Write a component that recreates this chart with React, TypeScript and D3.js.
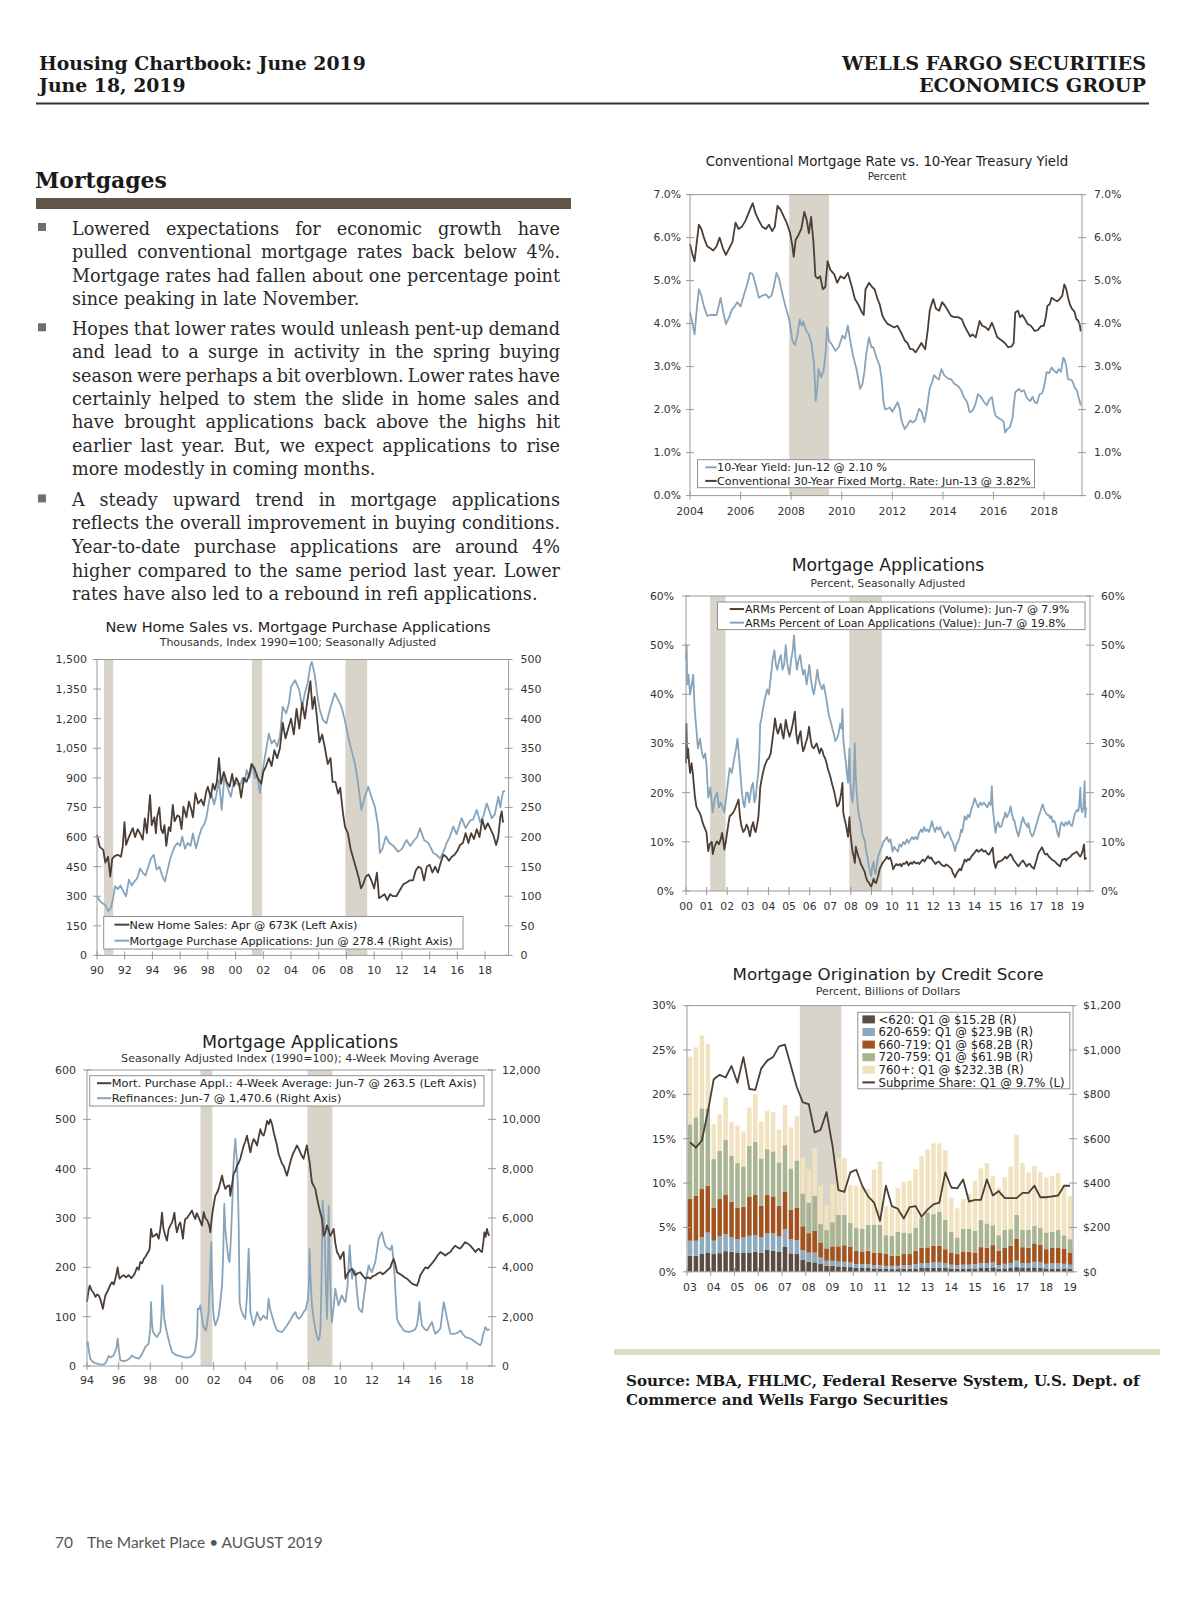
import React from "react";
import * as d3 from "d3";

type Pt = [number, number];

// ======================= DATA =======================
// Recession periods (decimal years)
const recessionsRate: Pt[] = [[2007.92, 2009.5]];
const recessionsArm: Pt[] = [[2001.17, 2001.92], [2007.92, 2009.5]];
const recessionsOrig: Pt[] = [[2007.75, 2009.5]];
const recessionsNhs: Pt[] = [[1990.5, 1991.17], [2001.17, 2001.92], [2007.92, 2009.5]];
const recessionsApps: Pt[] = [[2001.17, 2001.92], [2007.92, 2009.5]];

// Chart A: Conventional 30-yr mortgage rate (%)
const mortgageRate30: Pt[] = [[2004.0,5.85],[2004.08,5.65],[2004.18,5.45],[2004.27,5.9],[2004.35,6.3],[2004.45,6.2],[2004.55,6.0],[2004.68,5.8],[2004.8,5.75],[2004.92,5.7],[2005.05,5.8],[2005.17,6.0],[2005.3,5.75],[2005.42,5.6],[2005.55,5.75],[2005.68,5.9],[2005.8,6.35],[2005.92,6.2],[2006.05,6.25],[2006.2,6.4],[2006.37,6.65],[2006.48,6.8],[2006.6,6.55],[2006.72,6.4],[2006.86,6.25],[2007.0,6.2],[2007.12,6.3],[2007.25,6.15],[2007.35,6.25],[2007.46,6.74],[2007.58,6.65],[2007.7,6.5],[2007.82,6.35],[2007.96,6.1],[2008.05,5.8],[2008.1,5.55],[2008.18,5.95],[2008.28,6.05],[2008.4,6.2],[2008.52,6.6],[2008.62,6.4],[2008.7,6.1],[2008.79,6.48],[2008.88,5.9],[2008.96,5.1],[2009.05,5.05],[2009.15,5.1],[2009.25,4.8],[2009.35,4.85],[2009.44,5.45],[2009.55,5.25],[2009.7,5.15],[2009.82,4.95],[2009.95,5.1],[2010.1,5.05],[2010.24,5.18],[2010.38,4.9],[2010.52,4.57],[2010.65,4.45],[2010.8,4.26],[2010.87,4.2],[2010.94,4.8],[2011.08,4.95],[2011.2,4.85],[2011.3,4.8],[2011.4,4.6],[2011.5,4.45],[2011.6,4.2],[2011.68,4.1],[2011.8,4.0],[2011.95,3.95],[2012.07,3.91],[2012.2,3.95],[2012.35,3.79],[2012.5,3.6],[2012.6,3.55],[2012.7,3.41],[2012.82,3.4],[2012.92,3.33],[2013.05,3.45],[2013.15,3.55],[2013.3,3.4],[2013.4,3.85],[2013.48,4.3],[2013.55,4.45],[2013.62,4.57],[2013.72,4.35],[2013.85,4.3],[2013.97,4.5],[2014.1,4.4],[2014.2,4.3],[2014.32,4.18],[2014.45,4.15],[2014.6,4.15],[2014.75,4.1],[2014.85,3.95],[2014.96,3.83],[2015.08,3.7],[2015.17,3.75],[2015.3,3.68],[2015.45,4.06],[2015.55,3.95],[2015.68,3.92],[2015.8,3.85],[2015.94,4.02],[2016.05,3.85],[2016.15,3.68],[2016.3,3.62],[2016.45,3.55],[2016.58,3.45],[2016.72,3.47],[2016.8,3.55],[2016.86,4.26],[2016.97,4.3],[2017.05,4.15],[2017.14,4.2],[2017.25,4.1],[2017.35,3.99],[2017.48,3.95],[2017.63,3.83],[2017.75,3.85],[2017.88,3.94],[2017.99,3.95],[2018.07,4.15],[2018.13,4.41],[2018.22,4.45],[2018.3,4.6],[2018.42,4.55],[2018.52,4.52],[2018.62,4.57],[2018.72,4.65],[2018.8,4.91],[2018.88,4.8],[2018.95,4.6],[2019.02,4.45],[2019.1,4.35],[2019.2,4.28],[2019.28,4.1],[2019.35,4.07],[2019.42,3.95],[2019.45,3.82]];

// Chart A: 10-year Treasury yield (%)
const treasury10: Pt[] = [[2004.0,4.26],[2004.08,4.05],[2004.18,3.75],[2004.27,4.35],[2004.35,4.8],[2004.45,4.65],[2004.55,4.4],[2004.68,4.18],[2004.8,4.2],[2004.92,4.2],[2005.05,4.2],[2005.13,4.4],[2005.21,4.6],[2005.32,4.25],[2005.42,3.99],[2005.55,4.15],[2005.66,4.33],[2005.77,4.4],[2005.87,4.5],[2006.0,4.4],[2006.15,4.7],[2006.28,4.95],[2006.37,5.18],[2006.48,5.15],[2006.6,4.9],[2006.72,4.6],[2006.85,4.65],[2007.0,4.68],[2007.12,4.6],[2007.22,4.65],[2007.31,4.85],[2007.42,5.18],[2007.52,5.05],[2007.63,4.75],[2007.77,4.41],[2007.92,4.1],[2008.0,3.8],[2008.05,3.6],[2008.15,3.5],[2008.25,3.75],[2008.34,4.1],[2008.42,3.95],[2008.48,4.05],[2008.58,3.85],[2008.69,3.75],[2008.8,3.55],[2008.9,3.1],[2008.97,2.2],[2009.03,2.5],[2009.08,2.94],[2009.18,2.75],[2009.28,2.9],[2009.36,3.3],[2009.42,3.91],[2009.5,3.6],[2009.62,3.5],[2009.75,3.37],[2009.88,3.45],[2010.03,3.72],[2010.13,3.65],[2010.24,3.95],[2010.35,3.55],[2010.45,3.25],[2010.58,2.95],[2010.73,2.48],[2010.82,2.6],[2010.9,2.9],[2010.97,3.3],[2011.08,3.68],[2011.17,3.45],[2011.25,3.45],[2011.38,3.2],[2011.5,3.02],[2011.58,2.7],[2011.65,2.17],[2011.72,2.0],[2011.79,2.02],[2011.9,2.05],[2012.0,1.95],[2012.07,2.02],[2012.21,2.17],[2012.3,2.0],[2012.35,1.78],[2012.42,1.65],[2012.49,1.55],[2012.58,1.62],[2012.7,1.75],[2012.8,1.7],[2012.92,1.75],[2013.06,2.02],[2013.16,1.95],[2013.27,1.71],[2013.35,1.95],[2013.41,2.2],[2013.48,2.5],[2013.55,2.6],[2013.65,2.8],[2013.73,2.75],[2013.84,2.7],[2013.94,2.94],[2014.05,2.8],[2014.2,2.72],[2014.32,2.71],[2014.45,2.6],[2014.6,2.55],[2014.72,2.45],[2014.82,2.3],[2014.96,2.17],[2015.05,1.95],[2015.1,1.94],[2015.2,2.0],[2015.3,2.15],[2015.38,2.36],[2015.5,2.3],[2015.6,2.2],[2015.73,2.1],[2015.85,2.25],[2015.94,2.29],[2016.02,2.0],[2016.08,1.86],[2016.2,1.8],[2016.3,1.77],[2016.4,1.72],[2016.46,1.47],[2016.55,1.55],[2016.65,1.59],[2016.75,1.8],[2016.82,2.2],[2016.86,2.4],[2016.95,2.45],[2017.0,2.48],[2017.1,2.42],[2017.2,2.45],[2017.3,2.3],[2017.35,2.25],[2017.45,2.2],[2017.55,2.3],[2017.63,2.17],[2017.72,2.15],[2017.82,2.35],[2017.92,2.38],[2017.99,2.5],[2018.05,2.7],[2018.1,2.87],[2018.2,2.85],[2018.3,2.98],[2018.4,2.9],[2018.5,2.85],[2018.58,2.94],[2018.67,2.88],[2018.76,3.21],[2018.82,3.15],[2018.88,3.0],[2018.94,2.71],[2019.02,2.7],[2019.1,2.68],[2019.14,2.63],[2019.22,2.5],[2019.3,2.45],[2019.36,2.3],[2019.45,2.1]];

// Chart B: ARMs percent of loan applications, by value (%)
const armValue: Pt[] = [[2000.0,47],[2000.03,50],[2000.06,42],[2000.12,44],[2000.2,40],[2000.28,42],[2000.35,44],[2000.42,37],[2000.5,33],[2000.58,29],[2000.68,31],[2000.78,28],[2000.85,27],[2000.93,28],[2000.99,26],[2001.08,19],[2001.18,21],[2001.3,16],[2001.4,19],[2001.51,20],[2001.6,17],[2001.68,18],[2001.78,17],[2001.86,16],[2001.95,19],[2002.03,22],[2002.12,25],[2002.22,24],[2002.34,27],[2002.43,29],[2002.5,31],[2002.6,26],[2002.69,21],[2002.77,18],[2002.84,17],[2002.92,20],[2002.99,20],[2003.07,18],[2003.17,21],[2003.25,22],[2003.32,18],[2003.38,19],[2003.45,22],[2003.51,24],[2003.56,28],[2003.6,34],[2003.66,35],[2003.73,37],[2003.82,39],[2003.94,41],[2004.02,40],[2004.1,43],[2004.2,47],[2004.29,49],[2004.36,46],[2004.43,45],[2004.52,47],[2004.6,48],[2004.68,45],[2004.76,46],[2004.84,50],[2004.92,46],[2005.02,44],[2005.1,47],[2005.18,49],[2005.24,52],[2005.3,48],[2005.38,45],[2005.46,47],[2005.54,48],[2005.6,46],[2005.68,44],[2005.76,45],[2005.85,42],[2005.92,44],[2005.98,46],[2006.06,43],[2006.14,41],[2006.2,40],[2006.28,42],[2006.37,45],[2006.44,43],[2006.51,42],[2006.6,41],[2006.68,42],[2006.77,40],[2006.85,38],[2006.92,36],[2006.98,35],[2007.05,34],[2007.1,33],[2007.17,32],[2007.24,30.5],[2007.32,31],[2007.4,32],[2007.48,34],[2007.55,33],[2007.59,37],[2007.63,31],[2007.7,28],[2007.76,26],[2007.8,24],[2007.86,22],[2007.93,29],[2007.97,22],[2008.03,19],[2008.08,18],[2008.14,22],[2008.19,30],[2008.23,24],[2008.28,20],[2008.34,17],[2008.4,15],[2008.47,14],[2008.54,12],[2008.61,11],[2008.68,10],[2008.74,8],[2008.8,7],[2008.87,5],[2008.93,4],[2008.98,3],[2009.04,5],[2009.1,6],[2009.15,4],[2009.2,3.5],[2009.26,5.5],[2009.32,7],[2009.4,8],[2009.5,9],[2009.58,10],[2009.67,10.5],[2009.75,11],[2009.83,10],[2009.92,10.5],[2010.02,8],[2010.1,9],[2010.18,8.5],[2010.28,8],[2010.36,9.5],[2010.45,9],[2010.54,10],[2010.62,9.5],[2010.72,10.5],[2010.8,9.8],[2010.9,10.5],[2010.97,11],[2011.05,10.5],[2011.14,11],[2011.22,10.5],[2011.31,11.8],[2011.4,12.5],[2011.48,12],[2011.55,13],[2011.63,12.2],[2011.72,12.5],[2011.79,12],[2011.86,13],[2011.93,14.2],[2012.0,13],[2012.08,12],[2012.16,13],[2012.25,12.5],[2012.33,13],[2012.42,12],[2012.48,11.5],[2012.54,10.8],[2012.62,11.5],[2012.7,12],[2012.78,11.5],[2012.86,10.5],[2012.93,10],[2012.97,9.5],[2013.06,8.1],[2013.12,9.5],[2013.2,10],[2013.28,11],[2013.35,12.5],[2013.4,12],[2013.46,13.5],[2013.52,15.2],[2013.6,14.5],[2013.68,15.5],[2013.75,15],[2013.84,16.5],[2013.92,17.5],[2014.01,18.9],[2014.08,18],[2014.18,17],[2014.27,18],[2014.36,17.5],[2014.45,18],[2014.54,17.5],[2014.62,17],[2014.7,18],[2014.78,17.5],[2014.84,21.3],[2014.88,17],[2014.93,15],[2014.98,13],[2015.02,11.8],[2015.08,13.5],[2015.15,14],[2015.22,13],[2015.31,13.2],[2015.38,14.5],[2015.44,15],[2015.49,16],[2015.56,15],[2015.62,15.5],[2015.68,16],[2015.75,17.2],[2015.82,15.5],[2015.88,14.5],[2015.92,14.5],[2016.0,13],[2016.06,12],[2016.13,11.1],[2016.2,12.5],[2016.28,14],[2016.35,15],[2016.42,14],[2016.5,13.5],[2016.57,13],[2016.61,13.8],[2016.7,12],[2016.79,11.1],[2016.86,11.5],[2016.93,12.5],[2017.0,13.5],[2017.1,15],[2017.18,16],[2017.25,17],[2017.31,17.6],[2017.38,16.5],[2017.45,16],[2017.52,15.5],[2017.6,15.5],[2017.66,14.8],[2017.72,15.2],[2017.8,14],[2017.86,14.3],[2017.92,13.8],[2017.98,12.5],[2018.04,11.5],[2018.09,11],[2018.15,13],[2018.22,14],[2018.3,13.5],[2018.35,13.2],[2018.42,14],[2018.5,13.5],[2018.58,14.2],[2018.65,13.5],[2018.73,13.2],[2018.8,14.5],[2018.85,15.5],[2018.9,16],[2018.97,16.5],[2019.03,16.2],[2019.08,17.5],[2019.13,21],[2019.17,17],[2019.22,16],[2019.28,17],[2019.34,22.3],[2019.37,15],[2019.4,16.5],[2019.43,17]];

// Chart B: ARMs percent of loan applications, by volume (%)
const armVolume: Pt[] = [[2000.0,26],[2000.02,34],[2000.05,27],[2000.1,29],[2000.15,26],[2000.2,24],[2000.27,26],[2000.33,24],[2000.43,19.3],[2000.5,17.2],[2000.58,16.5],[2000.65,16],[2000.73,15.2],[2000.8,14],[2000.87,13.2],[2000.94,12.5],[2000.99,12],[2001.08,8.1],[2001.15,9.5],[2001.25,10],[2001.3,7.5],[2001.38,9],[2001.5,10.1],[2001.6,9.5],[2001.68,10.5],[2001.75,11.8],[2001.82,10],[2001.86,8.4],[2001.93,10],[2002.0,12],[2002.07,14],[2002.12,15.2],[2002.2,15.5],[2002.29,16],[2002.36,16.5],[2002.45,17.5],[2002.55,18.6],[2002.62,15],[2002.69,13.2],[2002.78,12],[2002.86,12.5],[2002.94,13.5],[2003.0,13],[2003.1,11.1],[2003.18,13],[2003.26,14],[2003.32,12.5],[2003.38,12],[2003.45,13.5],[2003.51,15],[2003.56,18],[2003.6,21],[2003.66,22.5],[2003.73,24],[2003.82,25.5],[2003.94,26.7],[2004.02,27],[2004.11,28],[2004.2,31],[2004.26,33],[2004.32,35.1],[2004.39,33],[2004.46,32],[2004.53,33],[2004.6,34],[2004.67,32],[2004.73,31],[2004.79,33],[2004.84,34.8],[2004.92,33],[2005.02,31.4],[2005.1,32.5],[2005.18,34],[2005.28,36.5],[2005.35,32],[2005.42,30],[2005.49,31.5],[2005.56,32.5],[2005.62,30],[2005.68,28.4],[2005.74,29],[2005.8,30],[2005.88,31],[2005.97,33.4],[2006.04,31],[2006.11,29.4],[2006.2,29],[2006.27,29.5],[2006.34,30],[2006.41,29],[2006.48,28],[2006.55,29],[2006.62,28.5],[2006.68,27.5],[2006.75,27],[2006.82,26],[2006.89,24.7],[2006.95,24],[2007.02,23],[2007.07,22],[2007.14,21],[2007.2,20],[2007.27,18.5],[2007.33,17.2],[2007.4,17.5],[2007.47,18.5],[2007.53,20],[2007.59,22],[2007.63,16],[2007.7,14.5],[2007.76,13.5],[2007.8,12.5],[2007.86,11],[2007.93,15],[2007.97,12],[2008.02,10.1],[2008.08,8],[2008.14,7],[2008.19,5.7],[2008.24,9],[2008.3,8],[2008.36,7],[2008.42,6.5],[2008.48,5.5],[2008.54,5],[2008.6,4.5],[2008.66,4],[2008.72,3],[2008.8,2],[2008.86,1.8],[2008.92,1.3],[2008.98,0.9],[2009.04,1.5],[2009.1,2.5],[2009.16,1.8],[2009.22,1.6],[2009.28,2.5],[2009.32,3],[2009.4,4.5],[2009.5,5.4],[2009.58,6],[2009.67,6.4],[2009.75,7],[2009.82,6.5],[2009.9,6.8],[2009.97,6],[2010.05,4.4],[2010.12,5],[2010.2,5.5],[2010.3,5.2],[2010.38,5.5],[2010.45,5],[2010.53,5.6],[2010.62,5.5],[2010.71,6],[2010.8,5.2],[2010.9,5.8],[2010.97,5.5],[2011.06,6],[2011.15,5.6],[2011.24,5.8],[2011.32,5.5],[2011.41,6],[2011.49,6.4],[2011.57,6],[2011.65,6.5],[2011.75,7.1],[2011.82,6.6],[2011.9,6.8],[2011.97,6.2],[2012.05,5.8],[2012.1,5.5],[2012.18,5.8],[2012.27,6],[2012.36,5.5],[2012.45,5.2],[2012.54,5],[2012.62,5.4],[2012.7,5.2],[2012.8,4.8],[2012.88,4.5],[2012.96,3.5],[2013.02,3.2],[2013.06,2.8],[2013.12,3.5],[2013.2,4],[2013.28,4.5],[2013.35,4.2],[2013.4,5],[2013.46,5.5],[2013.52,6.4],[2013.6,6],[2013.68,6.5],[2013.75,6.3],[2013.84,7],[2013.92,7.4],[2014.0,7.8],[2014.1,8.4],[2014.18,8],[2014.27,8.2],[2014.35,8.5],[2014.44,8],[2014.53,8.2],[2014.62,7.6],[2014.7,7.4],[2014.78,8],[2014.84,8.5],[2014.88,8.8],[2014.94,6],[2015.02,4.7],[2015.08,5.5],[2015.14,6],[2015.22,6],[2015.31,6.2],[2015.4,6.5],[2015.49,7],[2015.56,6.6],[2015.64,7],[2015.75,7.5],[2015.82,7],[2015.88,6.4],[2015.95,6],[2016.04,5.5],[2016.13,5],[2016.22,5.6],[2016.3,6],[2016.35,6.2],[2016.44,5.6],[2016.53,5],[2016.6,5.4],[2016.68,5.5],[2016.75,5],[2016.82,4.8],[2016.88,4.5],[2016.95,5.5],[2017.02,6.5],[2017.08,7.5],[2017.14,8],[2017.21,8.5],[2017.27,8.9],[2017.34,8.2],[2017.4,7.6],[2017.45,7.4],[2017.52,7.6],[2017.6,7],[2017.66,6.8],[2017.74,6.4],[2017.82,6.2],[2017.9,6],[2017.98,5.6],[2018.06,5.3],[2018.14,5],[2018.2,5.8],[2018.26,6.4],[2018.33,6.5],[2018.4,6.6],[2018.44,6.2],[2018.52,6.6],[2018.6,6.8],[2018.66,7],[2018.73,7.4],[2018.8,7.6],[2018.88,7.8],[2018.95,8],[2019.02,7.6],[2019.08,7.2],[2019.13,7],[2019.2,7.6],[2019.26,8.5],[2019.31,9.5],[2019.35,6.5],[2019.39,6.6],[2019.43,6.8]];

// Chart C: mortgage originations by credit score, quarterly from 2003 Q1 ($B)
const origStartYear = 2003;
const orig620: number[] = [72,72,80,87, 80,84,93,90, 87,87,87,90, 87,99,95,90, 114,83,80,53, 45,42,35,27, 27,24,24,21, 17,17,17,15, 15,14,12,12, 14,14,15,17, 17,18,18,17, 15,14,15,15, 15,17,17,20, 14,15,17,21, 17,17,20,18, 15,15,15,15, 14];
const orig620659: number[] = [68,68,75,90, 60,75,77,65, 60,68,75,75, 68,74,78,69, 78,64,63,45, 42,45,30,23, 23,23,21,21, 18,18,18,15, 15,13,15,15, 16,16,20,22, 22,24,24,21, 17,16,17,17, 20,22,22,22, 16,21,22,29, 22,22,25,24, 21,23,23,21, 18];
const orig660719: number[] = [188,203,218,211, 150,169,176,161, 143,138,178,181, 143,173,167,139, 169,133,146,107, 87,98,67,55, 64,67,75,72, 60,57,60,57, 57,53,45,45, 50,50,60,69, 71,75,75,64, 55,50,60,58, 52,72,69,78, 65,72,78,100, 72,69,83,80, 66,70,70,69, 55];
const orig720759: number[] = [337,353,364,349, 218,218,248,207, 200,182,228,240, 213,207,203,195, 210,186,213,147, 137,158,83,83, 109,142,136,106, 105,103,117,124, 124,85,90,108, 97,94,105,137, 158,143,154,133, 93,75,103,105, 98,122,110,90, 70,81,75,107, 78,81,80,78, 75,72,81,60, 60];
const orig760: number[] = [305,316,328,290, 158,165,192,151, 169,158,173,215, 166,173,176,148, 181,185,199,161, 152,215,173,113, 171,258,258,171, 188,187,161,249, 287,130,131,196, 229,237,263,275, 285,319,308,314, 155,131,133,155, 226,233,272,223, 215,238,283,361, 301,259,270,251, 249,253,256,226, 196];
const subprimeShare: number[] = [14.6,14.0,14.8,18.0, 21.7,22.2,21.9,23.2, 21.3,24.2,20.6,20.5, 22.9,23.8,24.2,25.4, 25.6,23.2,20.8,19.1, 18.9,15.7,16.0,18.0, 14.2,9.2,9.0,11.2, 11.5,9.7,8.5,7.8, 5.75,9.7,7.4,7.1, 6.0,7.3,7.4,6.2, 7.0,7.6,7.8,11.2, 9.5,9.4,10.4,7.9, 8.1,8.1,10.4,8.6, 9.1,8.3,8.3,8.3, 8.9,8.9,9.7,8.4, 8.4,8.5,8.6,9.7, 9.7];

// Chart D: new home sales (thousands, left) and purchase applications index (right)
const newHomeSales: Pt[] = [[1990.0,610],[1990.2,550],[1990.45,535],[1990.6,470],[1990.8,500],[1990.96,400],[1991.1,490],[1991.3,505],[1991.5,510],[1991.73,500],[1991.86,552],[1991.98,675],[1992.1,560],[1992.3,600],[1992.58,645],[1992.75,600],[1992.94,640],[1993.1,620],[1993.3,587],[1993.45,695],[1993.6,620],[1993.83,813],[1993.95,660],[1994.14,700],[1994.25,619],[1994.34,703],[1994.5,750],[1994.62,640],[1994.75,620],[1994.87,660],[1995.0,555],[1995.18,650],[1995.3,630],[1995.47,763],[1995.6,680],[1995.8,710],[1995.95,703],[1996.1,640],[1996.24,754],[1996.45,700],[1996.63,780],[1996.8,740],[1996.92,700],[1997.1,822],[1997.3,770],[1997.52,790],[1997.7,760],[1997.88,830],[1998.0,855],[1998.2,800],[1998.36,870],[1998.5,840],[1998.65,880],[1998.8,1000],[1998.95,870],[1999.15,930],[1999.35,880],[1999.57,855],[1999.75,920],[1999.9,860],[2000.05,900],[2000.25,870],[2000.4,800],[2000.6,900],[2000.8,880],[2001.0,920],[2001.15,970],[2001.35,950],[2001.6,900],[2001.85,870],[2002.0,930],[2002.2,960],[2002.4,1000],[2002.6,960],[2002.8,1040],[2003.0,1000],[2003.2,1050],[2003.4,1180],[2003.6,1100],[2003.8,1150],[2004.0,1200],[2004.2,1120],[2004.4,1250],[2004.6,1150],[2004.8,1280],[2005.0,1200],[2005.2,1300],[2005.4,1390],[2005.55,1250],[2005.7,1310],[2005.85,1220],[2006.05,1080],[2006.25,1120],[2006.45,1050],[2006.65,970],[2006.85,1000],[2007.0,880],[2007.2,880],[2007.4,820],[2007.55,850],[2007.75,720],[2007.9,650],[2008.1,620],[2008.3,540],[2008.5,490],[2008.7,440],[2008.9,390],[2009.05,340],[2009.2,360],[2009.4,400],[2009.6,410],[2009.8,380],[2010.0,340],[2010.2,420],[2010.35,290],[2010.55,300],[2010.75,310],[2010.95,280],[2011.15,310],[2011.35,300],[2011.6,300],[2011.85,330],[2012.1,360],[2012.35,370],[2012.55,380],[2012.8,380],[2013.0,430],[2013.2,450],[2013.4,440],[2013.6,380],[2013.8,450],[2014.0,460],[2014.2,420],[2014.4,450],[2014.6,420],[2014.8,470],[2015.0,510],[2015.2,500],[2015.4,480],[2015.6,500],[2015.8,510],[2016.0,530],[2016.2,560],[2016.4,570],[2016.6,620],[2016.8,570],[2017.0,620],[2017.2,590],[2017.4,640],[2017.6,600],[2017.8,690],[2018.0,640],[2018.2,670],[2018.4,640],[2018.6,610],[2018.8,560],[2018.95,600],[2019.1,700],[2019.2,730],[2019.3,673]];
const purchaseIndex: Pt[] = [[1990.0,100],[1990.2,92],[1990.4,88],[1990.6,85],[1990.8,75],[1991.0,80],[1991.15,95],[1991.3,117],[1991.5,112],[1991.7,118],[1991.9,108],[1992.1,100],[1992.3,128],[1992.5,118],[1992.7,125],[1992.9,130],[1993.1,147],[1993.3,140],[1993.5,135],[1993.7,150],[1993.9,164],[1994.1,170],[1994.3,145],[1994.5,150],[1994.7,135],[1994.9,125],[1995.1,145],[1995.3,165],[1995.6,184],[1995.8,190],[1996.0,185],[1996.15,201],[1996.35,180],[1996.55,190],[1996.75,185],[1996.92,206],[1997.15,181],[1997.35,200],[1997.55,215],[1997.75,222],[1997.9,234],[1998.1,262],[1998.25,274],[1998.45,255],[1998.6,270],[1998.8,296],[1999.0,246],[1999.2,305],[1999.4,285],[1999.65,268],[1999.85,290],[2000.1,291],[2000.3,285],[2000.5,300],[2000.65,292],[2000.8,313],[2001.0,300],[2001.2,324],[2001.4,300],[2001.55,305],[2001.75,274],[2002.0,319],[2002.2,347],[2002.4,375],[2002.6,358],[2002.8,364],[2003.0,353],[2003.2,370],[2003.4,420],[2003.65,409],[2003.85,426],[2004.0,454],[2004.3,465],[2004.6,448],[2004.8,420],[2005.0,443],[2005.2,460],[2005.4,490],[2005.5,496],[2005.7,476],[2005.9,440],[2006.07,415],[2006.3,398],[2006.55,392],[2006.8,415],[2007.15,443],[2007.4,432],[2007.64,420],[2007.88,398],[2008.12,370],[2008.36,347],[2008.6,325],[2008.77,302],[2008.96,268],[2009.08,246],[2009.33,268],[2009.57,285],[2009.8,268],[2010.05,251],[2010.29,218],[2010.41,173],[2010.6,180],[2010.84,201],[2011.1,190],[2011.4,185],[2011.73,175],[2012.0,180],[2012.34,195],[2012.6,185],[2012.9,195],[2013.1,200],[2013.3,215],[2013.6,195],[2013.9,190],[2014.27,173],[2014.5,170],[2014.75,164],[2015.0,175],[2015.23,190],[2015.45,200],[2015.71,218],[2015.95,205],[2016.31,232],[2016.6,215],[2016.92,228],[2017.15,230],[2017.4,246],[2017.65,225],[2017.88,235],[2018.12,257],[2018.3,245],[2018.48,232],[2018.7,238],[2018.96,268],[2019.1,250],[2019.3,277],[2019.45,278]];

// Chart E: purchase applications 4-wk avg (left) and refinance index (right)
const purchaseApps4wk: Pt[] = [[1994.0,130],[1994.08,150],[1994.17,163],[1994.3,153],[1994.42,148],[1994.53,140],[1994.64,145],[1994.74,143],[1994.85,135],[1994.95,123],[1995.0,116],[1995.08,130],[1995.16,143],[1995.27,150],[1995.37,157],[1995.48,165],[1995.58,170],[1995.69,165],[1995.79,177],[1995.88,190],[1995.94,200],[1996.0,185],[1996.06,177],[1996.2,182],[1996.32,184],[1996.47,180],[1996.63,184],[1996.8,178],[1996.95,184],[1997.05,190],[1997.16,200],[1997.27,195],[1997.37,211],[1997.48,208],[1997.58,217],[1997.7,222],[1997.79,227],[1997.9,233],[1997.96,238],[1998.04,278],[1998.14,262],[1998.25,264],[1998.4,268],[1998.53,258],[1998.64,280],[1998.74,311],[1998.82,280],[1998.95,264],[1999.05,254],[1999.16,278],[1999.27,285],[1999.37,291],[1999.45,300],[1999.52,311],[1999.6,285],[1999.68,271],[1999.79,285],[1999.89,291],[1999.98,275],[2000.06,258],[2000.14,285],[2000.21,298],[2000.32,300],[2000.42,305],[2000.53,310],[2000.63,315],[2000.74,305],[2000.84,298],[2000.93,310],[2001.0,305],[2001.13,295],[2001.26,285],[2001.37,312],[2001.47,300],[2001.6,295],[2001.72,285],[2001.79,271],[2001.88,300],[2001.96,318],[2002.1,345],[2002.2,350],[2002.32,360],[2002.42,372],[2002.53,386],[2002.63,370],[2002.74,359],[2002.87,365],[2003.0,366],[2003.05,345],[2003.15,365],[2003.26,390],[2003.37,395],[2003.47,406],[2003.58,412],[2003.68,420],[2003.8,435],[2003.9,447],[2004.0,455],[2004.1,467],[2004.21,450],[2004.32,433],[2004.42,450],[2004.53,460],[2004.63,455],[2004.74,447],[2004.85,465],[2004.95,480],[2005.05,470],[2005.16,467],[2005.27,480],[2005.37,497],[2005.48,490],[2005.58,500],[2005.69,490],[2005.79,474],[2005.9,460],[2006.0,447],[2006.1,430],[2006.21,420],[2006.32,410],[2006.42,406],[2006.53,395],[2006.63,386],[2006.74,400],[2006.84,413],[2006.95,425],[2007.05,433],[2007.16,440],[2007.26,447],[2007.37,440],[2007.47,433],[2007.58,425],[2007.68,420],[2007.79,435],[2007.89,447],[2007.97,430],[2008.06,413],[2008.14,390],[2008.21,372],[2008.32,365],[2008.42,359],[2008.53,340],[2008.63,325],[2008.74,310],[2008.84,298],[2008.95,264],[2009.05,270],[2009.16,285],[2009.26,275],[2009.37,264],[2009.47,270],[2009.58,278],[2009.68,250],[2009.79,231],[2009.9,225],[2010.0,217],[2010.1,225],[2010.21,231],[2010.32,177],[2010.42,185],[2010.53,190],[2010.63,195],[2010.74,197],[2010.84,190],[2010.95,184],[2011.1,188],[2011.26,190],[2011.42,183],[2011.58,177],[2011.74,180],[2011.9,177],[2012.05,182],[2012.21,184],[2012.37,188],[2012.53,190],[2012.68,186],[2012.84,190],[2013.0,195],[2013.16,200],[2013.27,210],[2013.37,217],[2013.48,205],[2013.58,190],[2013.74,187],[2013.89,184],[2014.05,180],[2014.21,177],[2014.37,172],[2014.53,167],[2014.68,165],[2014.84,163],[2014.95,172],[2015.05,184],[2015.21,192],[2015.37,200],[2015.53,198],[2015.68,204],[2015.84,210],[2016.0,217],[2016.16,225],[2016.32,231],[2016.47,228],[2016.63,224],[2016.79,228],[2016.95,231],[2017.1,238],[2017.26,244],[2017.42,240],[2017.58,238],[2017.74,245],[2017.89,251],[2018.05,248],[2018.21,244],[2018.37,238],[2018.53,231],[2018.63,235],[2018.74,238],[2018.85,233],[2018.95,231],[2019.03,250],[2019.1,271],[2019.18,262],[2019.26,278],[2019.34,268],[2019.41,264]];
const refinanceIndex: Pt[] = [[1994.0,837],[1994.05,972],[1994.1,700],[1994.2,297],[1994.4,150],[1994.63,94],[1994.85,70],[1995.05,54],[1995.2,150],[1995.37,405],[1995.52,350],[1995.68,432],[1995.85,700],[1995.94,1107],[1996.02,600],[1996.1,229],[1996.3,200],[1996.53,229],[1996.7,300],[1996.84,432],[1997.0,350],[1997.26,297],[1997.45,450],[1997.68,769],[1997.89,904],[1998.0,1500],[1998.04,2591],[1998.1,1800],[1998.17,1377],[1998.3,1250],[1998.42,1174],[1998.53,1300],[1998.63,1377],[1998.7,2000],[1998.76,3266],[1998.82,2500],[1998.88,1916],[1999.0,1500],[1999.09,1241],[1999.22,900],[1999.37,567],[1999.52,480],[1999.68,432],[1999.9,400],[2000.1,364],[2000.3,340],[2000.53,364],[2000.7,450],[2000.84,634],[2000.95,1200],[2001.0,2321],[2001.08,2300],[2001.16,2456],[2001.25,2000],[2001.33,1646],[2001.43,1500],[2001.52,1444],[2001.6,1800],[2001.68,2186],[2001.76,3500],[2001.85,5020],[2001.9,3500],[2001.96,2321],[2002.03,1900],[2002.1,1646],[2002.2,1800],[2002.32,2051],[2002.42,2600],[2002.53,3266],[2002.6,4500],[2002.67,6572],[2002.74,5500],[2002.84,4885],[2002.92,4400],[2003.0,4211],[2003.06,4800],[2003.12,5695],[2003.2,7000],[2003.26,8259],[2003.32,8800],[2003.37,9204],[2003.42,8700],[2003.47,8394],[2003.53,7200],[2003.58,5695],[2003.64,2591],[2003.72,2300],[2003.79,2186],[2003.9,2000],[2004.0,1916],[2004.1,2800],[2004.21,4750],[2004.27,3500],[2004.32,2186],[2004.42,1900],[2004.53,1646],[2004.64,1900],[2004.74,2186],[2004.85,2000],[2004.95,1849],[2005.05,1950],[2005.16,2051],[2005.27,1950],[2005.37,1916],[2005.47,2726],[2005.57,2300],[2005.68,2051],[2005.84,1700],[2006.0,1444],[2006.16,1400],[2006.32,1377],[2006.47,1500],[2006.63,1646],[2006.79,1800],[2006.95,1984],[2007.05,2100],[2007.16,2186],[2007.26,2000],[2007.37,1916],[2007.52,2000],[2007.68,2186],[2007.82,2300],[2007.96,2726],[2008.02,3500],[2008.06,4750],[2008.12,3500],[2008.21,2456],[2008.32,1900],[2008.42,1511],[2008.52,1200],[2008.63,1039],[2008.7,1200],[2008.74,1511],[2008.8,3000],[2008.88,6707],[2008.94,6200],[2009.0,5560],[2009.08,3500],[2009.16,1916],[2009.21,3500],[2009.26,6505],[2009.31,5000],[2009.37,3266],[2009.42,2300],[2009.47,1781],[2009.58,2400],[2009.68,3131],[2009.78,2800],[2009.89,2456],[2010.0,2700],[2010.1,2861],[2010.21,2700],[2010.32,2591],[2010.45,3200],[2010.59,4885],[2010.66,4200],[2010.74,3536],[2010.85,3900],[2010.95,3806],[2011.05,3000],[2011.16,2321],[2011.26,2250],[2011.37,2186],[2011.47,2700],[2011.58,3266],[2011.68,3700],[2011.79,4076],[2011.9,3900],[2012.0,3806],[2012.1,4000],[2012.21,4211],[2012.32,4700],[2012.42,5155],[2012.52,5300],[2012.63,5425],[2012.74,5100],[2012.84,4885],[2012.95,4800],[2013.05,4750],[2013.16,4700],[2013.26,4885],[2013.35,4300],[2013.43,3671],[2013.5,2800],[2013.58,1916],[2013.68,1750],[2013.79,1646],[2013.9,1550],[2014.0,1444],[2014.16,1400],[2014.32,1377],[2014.47,1400],[2014.63,1444],[2014.74,1500],[2014.84,1646],[2014.92,2000],[2015.0,2591],[2015.08,2000],[2015.16,1646],[2015.32,1500],[2015.47,1444],[2015.63,1600],[2015.79,1781],[2015.9,1500],[2016.0,1309],[2016.16,1400],[2016.32,1511],[2016.42,2000],[2016.53,2591],[2016.63,2300],[2016.74,1916],[2016.85,1600],[2016.95,1309],[2017.1,1300],[2017.26,1309],[2017.42,1350],[2017.58,1444],[2017.74,1300],[2017.89,1174],[2018.05,1150],[2018.21,1107],[2018.37,1050],[2018.53,972],[2018.68,900],[2018.84,837],[2018.92,950],[2019.0,1241],[2019.08,1400],[2019.16,1579],[2019.24,1500],[2019.31,1444],[2019.38,1480],[2019.43,1471]];

// Tick values
const ticksRate = [0, 1, 2, 3, 4, 5, 6, 7];
const yearsRate = [2004, 2006, 2008, 2010, 2012, 2014, 2016, 2018];
const ticksArm = [0, 10, 20, 30, 40, 50, 60];
const yearsArm = d3.range(2000, 2020);
const ticksOrigL = [0, 5, 10, 15, 20, 25, 30];
const ticksOrigR = [0, 200, 400, 600, 800, 1000, 1200];
const yearsOrig = d3.range(2003, 2020);
const ticksNhsL = d3.range(0, 1501, 150);
const ticksNhsR = d3.range(0, 501, 50);
const yearsNhs = d3.range(1990, 2019, 2);
const ticksAppsL = d3.range(0, 601, 100);
const ticksAppsR = d3.range(0, 12001, 2000);
const yearsApps = d3.range(1994, 2019, 2);

// Text content
const para1 = [
  "Lowered expectations for economic growth have",
  "pulled conventional mortgage rates back below 4%.",
  "Mortgage rates had fallen about one percentage point",
  "since peaking in late November.",
];
const para2 = [
  "Hopes that lower rates would unleash pent-up demand",
  "and lead to a surge in activity in the spring buying",
  "season were perhaps a bit overblown. Lower rates have",
  "certainly helped to stem the slide in home sales and",
  "have brought applications back above the highs hit",
  "earlier last year. But, we expect applications to rise",
  "more modestly in coming months.",
];
const para3 = [
  "A steady upward trend in mortgage applications",
  "reflects the overall improvement in buying conditions.",
  "Year-to-date purchase applications are around 4%",
  "higher compared to the same period last year. Lower",
  "rates have also led to a rebound in refi applications.",
];

// ======================= STYLE =======================
const SANS = "'DejaVu Sans', Verdana, sans-serif";
const SERIF = "'DejaVu Serif', Georgia, serif";
const DARK = "#4b3e35";
const LIGHT = "#87a4ba";
const SHADE = "#d9d4ca";
const AXIS = "#9a9a9a";
const LBL = "#333";
const C620 = "#5a4c42";
const C659 = "#8eaabf";
const C719 = "#a2531f";
const C759 = "#a9b592";
const C760 = "#f1e3c0";

let measureCtx: CanvasRenderingContext2D | null = null;
function textW(t: string, font: string): number {
  if (!measureCtx) measureCtx = document.createElement("canvas").getContext("2d");
  measureCtx!.font = font;
  return measureCtx!.measureText(t).width;
}
function fitSize(t: string, weight: string, family: string, target: number): number {
  return (100 * target) / textW(t, `${weight} 100px ${family}`);
}

type AxisCfg = { domain: [number, number]; ticks: number[]; fmt: (v: number) => string };
type Cfg = {
  left: number; right: number; top: number; bottom: number;
  xDomain: [number, number];
  yL: AxisCfg; yR: AxisCfg;
  xTicks: number[]; xLabels: { v: number; t: string }[];
  tickFs: number; lGap: number; rGap: number; xLabDy: number;
  recessions: Pt[];
  title: string; titleX: number; titleY: number; titleFs: number;
  sub: string; subY: number; subFs: number;
};
type LegendItem = { label: string; color: string; kind: "line" | "box" };
type LegendCfg = {
  x: number; y: number; w: number; h: number; fs: number;
  swX: number; swW: number; txX: number; base0: number; rowH: number;
  items: LegendItem[];
};
type SeriesCfg = { data: Pt[]; axis: "L" | "R"; color: string };

function Legend({ lg }: { lg: LegendCfg }) {
  return (
    <g>
      <rect x={lg.x} y={lg.y} width={lg.w} height={lg.h} fill="#fff" stroke="#8f8f8f" strokeWidth={1} />
      {lg.items.map((it, i) => {
        const by = lg.base0 + i * lg.rowH;
        const cy = by - lg.fs * 0.36;
        return (
          <g key={i}>
            {it.kind === "line" ? (
              <line x1={lg.x + lg.swX} x2={lg.x + lg.swX + lg.swW} y1={cy} y2={cy} stroke={it.color} strokeWidth={2} />
            ) : (
              <rect x={lg.x + lg.swX} y={cy - 4} width={lg.swW} height={8} fill={it.color} />
            )}
            <text x={lg.x + lg.txX} y={by} fontSize={lg.fs} fill="#222">{it.label}</text>
          </g>
        );
      })}
    </g>
  );
}

function Chart({ cfg, series, legend, bars }: {
  cfg: Cfg; series: SeriesCfg[]; legend: LegendCfg;
  bars?: (x: d3.ScaleLinear<number, number>, yl: d3.ScaleLinear<number, number>, yr: d3.ScaleLinear<number, number>) => React.ReactNode;
}) {
  const x = d3.scaleLinear().domain(cfg.xDomain).range([cfg.left, cfg.right]);
  const yl = d3.scaleLinear().domain(cfg.yL.domain).range([cfg.bottom, cfg.top]);
  const yr = d3.scaleLinear().domain(cfg.yR.domain).range([cfg.bottom, cfg.top]);
  return (
    <g fontFamily={SANS}>
      <text x={cfg.titleX} y={cfg.titleY} textAnchor="middle" fontSize={cfg.titleFs} fill="#1e1e1e">{cfg.title}</text>
      <text x={cfg.titleX} y={cfg.subY} textAnchor="middle" fontSize={cfg.subFs} fill="#333">{cfg.sub}</text>
      {cfg.recessions.map(([a, b], i) => (
        <rect key={i} x={x(a)} y={cfg.top} width={x(b) - x(a)} height={cfg.bottom - cfg.top} fill={SHADE} />
      ))}
      {bars && bars(x, yl, yr)}
      {series.map((s, i) => {
        const y = s.axis === "R" ? yr : yl;
        const gen = d3.line<Pt>().x((d) => x(d[0])).y((d) => y(d[1]));
        return <path key={i} d={gen(s.data) || ""} fill="none" stroke={s.color} strokeWidth={1.8} strokeLinejoin="round" />;
      })}
      <rect x={cfg.left} y={cfg.top} width={cfg.right - cfg.left} height={cfg.bottom - cfg.top} fill="none" stroke={AXIS} strokeWidth={1} />
      {cfg.yL.ticks.map((v, i) => (
        <g key={"l" + i}>
          <line x1={cfg.left - 4} x2={cfg.left + 4} y1={yl(v)} y2={yl(v)} stroke={AXIS} />
          <text x={cfg.left - cfg.lGap} y={yl(v) + cfg.tickFs * 0.36} textAnchor="end" fontSize={cfg.tickFs} fill={LBL}>{cfg.yL.fmt(v)}</text>
        </g>
      ))}
      {cfg.yR.ticks.map((v, i) => (
        <g key={"r" + i}>
          <line x1={cfg.right - 4} x2={cfg.right + 4} y1={yr(v)} y2={yr(v)} stroke={AXIS} />
          <text x={cfg.right + cfg.rGap} y={yr(v) + cfg.tickFs * 0.36} textAnchor="start" fontSize={cfg.tickFs} fill={LBL}>{cfg.yR.fmt(v)}</text>
        </g>
      ))}
      {cfg.xTicks.map((v, i) => (
        <line key={"xt" + i} x1={x(v)} x2={x(v)} y1={cfg.bottom - 4} y2={cfg.bottom + 4} stroke={AXIS} />
      ))}
      {cfg.xLabels.map((l, i) => (
        <text key={"xl" + i} x={x(l.v)} y={cfg.bottom + cfg.xLabDy} textAnchor="middle" fontSize={cfg.tickFs} fill={LBL}>{l.t}</text>
      ))}
      <Legend lg={legend} />
    </g>
  );
}

function Paragraph({ lines, x, y0, lh, width, size }: { lines: string[]; x: number; y0: number; lh: number; width: number; size: number }) {
  const font = `${size}px ${SERIF}`;
  return (
    <g fontFamily={SERIF} fontSize={size} fill="#2a2a2a">
      <rect x={38} y={y0 - 11.5} width={8} height={8} fill="#6f6f6f" />
      {lines.map((ln, li) => {
        const y = y0 + li * lh;
        if (li === lines.length - 1) return <text key={li} x={x} y={y}>{ln}</text>;
        const words = ln.split(" ");
        const ws = words.map((w) => textW(w, font));
        const gap = (width - d3.sum(ws)) / (words.length - 1);
        let cx = x;
        return (
          <g key={li}>
            {words.map((w, wi) => {
              const el = <text key={wi} x={cx} y={y}>{w}</text>;
              cx += ws[wi] + gap;
              return el;
            })}
          </g>
        );
      })}
    </g>
  );
}

const pct1 = (v: number) => v.toFixed(1) + "%";
const pct0 = (v: number) => v + "%";
const comma = d3.format(",");
const dollar = (v: number) => "$" + comma(v);
const yy = (v: number) => String(v).slice(2);

export default function App() {
  const cfgA: Cfg = {
    left: 690, right: 1082, top: 194.6, bottom: 495.6,
    xDomain: [2004, 2019.5],
    yL: { domain: [0, 7], ticks: ticksRate, fmt: pct1 },
    yR: { domain: [0, 7], ticks: ticksRate, fmt: pct1 },
    xTicks: yearsRate, xLabels: yearsRate.map((v) => ({ v, t: String(v) })),
    tickFs: 10.8, lGap: 9, rGap: 12, xLabDy: 19.5,
    recessions: recessionsRate,
    title: "Conventional Mortgage Rate vs. 10-Year Treasury Yield", titleX: 887, titleY: 166, titleFs: 13.3,
    sub: "Percent", subY: 180, subFs: 10.3,
  };
  const legA: LegendCfg = {
    x: 697.5, y: 459.7, w: 337, h: 28, fs: 11.1, swX: 7.8, swW: 11.4, txX: 19.6, base0: 471.3, rowH: 13.6,
    items: [
      { label: "10-Year Yield: Jun-12 @ 2.10 %", color: LIGHT, kind: "line" },
      { label: "Conventional 30-Year Fixed Mortg. Rate: Jun-13 @ 3.82%", color: DARK, kind: "line" },
    ],
  };

  const cfgB: Cfg = {
    left: 686, right: 1090, top: 596, bottom: 891,
    xDomain: [2000, 2019.6],
    yL: { domain: [0, 60], ticks: ticksArm, fmt: pct0 },
    yR: { domain: [0, 60], ticks: ticksArm, fmt: pct0 },
    xTicks: yearsArm, xLabels: yearsArm.map((v) => ({ v, t: yy(v) })),
    tickFs: 10.8, lGap: 12, rGap: 11, xLabDy: 19,
    recessions: recessionsArm,
    title: "Mortgage Applications", titleX: 888, titleY: 571.4, titleFs: 17.2,
    sub: "Percent, Seasonally Adjusted", subY: 586.7, subFs: 10.7,
  };
  const legB: LegendCfg = {
    x: 717.5, y: 602, w: 367.5, h: 27.6, fs: 11, swX: 12.2, swW: 14.3, txX: 27.6, base0: 613, rowH: 13.6,
    items: [
      { label: "ARMs Percent of Loan Applications (Volume): Jun-7 @ 7.9%", color: DARK, kind: "line" },
      { label: "ARMs Percent of Loan Applications (Value): Jun-7 @ 19.8%", color: LIGHT, kind: "line" },
    ],
  };

  const cfgC: Cfg = {
    left: 687, right: 1073, top: 1005.6, bottom: 1271.8,
    xDomain: [2003, 2019.25],
    yL: { domain: [0, 30], ticks: ticksOrigL, fmt: pct0 },
    yR: { domain: [0, 1200], ticks: ticksOrigR, fmt: dollar },
    xTicks: yearsOrig, xLabels: yearsOrig.map((v) => ({ v: v + 0.125, t: yy(v) })),
    tickFs: 10.8, lGap: 11, rGap: 10, xLabDy: 19,
    recessions: recessionsOrig,
    title: "Mortgage Origination by Credit Score", titleX: 888, titleY: 980, titleFs: 16.7,
    sub: "Percent, Billions of Dollars", subY: 994.5, subFs: 11.1,
  };
  const legC: LegendCfg = {
    x: 857.8, y: 1012.3, w: 212, h: 76.5, fs: 11.7, swX: 4.6, swW: 12.5, txX: 20.7, base0: 1023.6, rowH: 12.6,
    items: [
      { label: "<620: Q1 @ $15.2B (R)", color: C620, kind: "box" },
      { label: "620-659: Q1 @ $23.9B (R)", color: C659, kind: "box" },
      { label: "660-719: Q1 @ $68.2B (R)", color: C719, kind: "box" },
      { label: "720-759: Q1 @ $61.9B (R)", color: C759, kind: "box" },
      { label: "760+: Q1 @ $232.3B (R)", color: C760, kind: "box" },
      { label: "Subprime Share: Q1 @ 9.7% (L)", color: DARK, kind: "line" },
    ],
  };
  const quarterStarts = orig620.map((_, i) => origStartYear + i / 4);
  const segs = [
    { vals: orig620, color: C620 },
    { vals: orig620659, color: C659 },
    { vals: orig660719, color: C719 },
    { vals: orig720759, color: C759 },
    { vals: orig760, color: C760 },
  ];
  const subprimeSeries: Pt[] = subprimeShare.map((v, i) => [quarterStarts[i] + 0.125, v]);

  const cfgD: Cfg = {
    left: 97, right: 508.6, top: 659.5, bottom: 955.4,
    xDomain: [1990, 2019.7],
    yL: { domain: [0, 1500], ticks: ticksNhsL, fmt: comma },
    yR: { domain: [0, 500], ticks: ticksNhsR, fmt: comma },
    xTicks: yearsNhs, xLabels: yearsNhs.map((v) => ({ v, t: yy(v) })),
    tickFs: 11, lGap: 10, rGap: 12, xLabDy: 19,
    recessions: recessionsNhs,
    title: "New Home Sales vs. Mortgage Purchase Applications", titleX: 298, titleY: 632, titleFs: 14.5,
    sub: "Thousands, Index 1990=100;  Seasonally Adjusted", subY: 646, subFs: 11,
  };
  const legD: LegendCfg = {
    x: 103.7, y: 916.5, w: 359.3, h: 32.5, fs: 11.2, swX: 10.7, swW: 15, txX: 25.7, base0: 928.7, rowH: 16,
    items: [
      { label: "New Home Sales: Apr @ 673K (Left Axis)", color: DARK, kind: "line" },
      { label: "Mortgage Purchase Applications: Jun @ 278.4 (Right Axis)", color: LIGHT, kind: "line" },
    ],
  };

  const cfgE: Cfg = {
    left: 87, right: 492, top: 1070, bottom: 1366,
    xDomain: [1994, 2019.58],
    yL: { domain: [0, 600], ticks: ticksAppsL, fmt: comma },
    yR: { domain: [0, 12000], ticks: ticksAppsR, fmt: comma },
    xTicks: yearsApps, xLabels: yearsApps.map((v) => ({ v, t: yy(v) })),
    tickFs: 11, lGap: 11, rGap: 10, xLabDy: 18,
    recessions: recessionsApps,
    title: "Mortgage Applications", titleX: 300, titleY: 1047.5, titleFs: 17.5,
    sub: "Seasonally Adjusted Index (1990=100);  4-Week Moving Average", subY: 1062, subFs: 11.1,
  };
  const legE: LegendCfg = {
    x: 89.7, y: 1075.7, w: 394.3, h: 30.3, fs: 11.35, swX: 7.3, swW: 14.3, txX: 22, base0: 1087.3, rowH: 15,
    items: [
      { label: "Mort. Purchase Appl.: 4-Week Average: Jun-7 @ 263.5 (Left Axis)", color: DARK, kind: "line" },
      { label: "Refinances: Jun-7 @ 1,470.6 (Right Axis)", color: LIGHT, kind: "line" },
    ],
  };

  // Text sizing
  const h1 = "Housing Chartbook: June 2019";
  const hSize = fitSize(h1, "bold", SERIF, 327);
  const rSize = fitSize("WELLS FARGO SECURITIES", "bold", SERIF, 304);
  const mSize = fitSize("Mortgages", "bold", SERIF, 132);
  const bodySize = fitSize("rates have also led to a rebound in refi applications.", "normal", SERIF, 466);
  const src1 = "Source: MBA, FHLMC, Federal Reserve System, U.S. Dept. of";
  const srcSize = fitSize(src1, "bold", SERIF, 514);
  const footTxt = "The Market Place \u2022 AUGUST 2019";
  const footSize = fitSize(footTxt, "normal", "Lato", 237);

  return (
    <svg width={1200} height={1606} viewBox="0 0 1200 1606" style={{ position: "absolute", left: 0, top: 0, background: "#fff" }}>
      <rect x={0} y={0} width={1200} height={1606} fill="#fff" />
      {/* Header */}
      <g fontFamily={SERIF} fontWeight="bold" fill="#1a1a1a">
        <text x={39} y={70} fontSize={hSize}>{h1}</text>
        <text x={39} y={92} fontSize={hSize}>June 18, 2019</text>
        <text x={1146} y={70} fontSize={rSize} textAnchor="end">WELLS FARGO SECURITIES</text>
        <text x={1146} y={92} fontSize={rSize} textAnchor="end">ECONOMICS GROUP</text>
        <text x={35} y={188} fontSize={mSize}>Mortgages</text>
      </g>
      <line x1={36} x2={1149} y1={103.5} y2={103.5} stroke="#333" strokeWidth={2} />
      <rect x={36} y={198} width={535} height={11} fill="#625649" />

      <Paragraph lines={para1} x={72} y0={234.5} lh={23.55} width={488} size={bodySize} />
      <Paragraph lines={para2} x={72} y0={334.8} lh={23.37} width={488} size={bodySize} />
      <Paragraph lines={para3} x={72} y0={505.9} lh={23.55} width={488} size={bodySize} />

      <Chart cfg={cfgA} legend={legA} series={[
        { data: treasury10, axis: "L", color: LIGHT },
        { data: mortgageRate30, axis: "L", color: DARK },
      ]} />
      <Chart cfg={cfgB} legend={legB} series={[
        { data: armValue, axis: "L", color: LIGHT },
        { data: armVolume, axis: "L", color: DARK },
      ]} />
      <Chart cfg={cfgC} legend={legC}
        series={[{ data: subprimeSeries, axis: "L", color: DARK }]}
        bars={(x, _yl, yr) => quarterStarts.map((q, i) => {
          const band = x(q + 0.25) - x(q);
          const bw = band * 0.76;
          const bx = x(q) + (band - bw) / 2;
          let acc = 0;
          return (
            <g key={i}>
              {segs.map((s, j) => {
                const y0 = yr(acc);
                acc += s.vals[i];
                const y1 = yr(acc);
                return <rect key={j} x={bx} y={y1} width={bw} height={y0 - y1} fill={s.color} />;
              })}
            </g>
          );
        })}
      />
      <Chart cfg={cfgD} legend={legD} series={[
        { data: purchaseIndex, axis: "R", color: LIGHT },
        { data: newHomeSales, axis: "L", color: DARK },
      ]} />
      <Chart cfg={cfgE} legend={legE} series={[
        { data: refinanceIndex, axis: "R", color: LIGHT },
        { data: purchaseApps4wk, axis: "L", color: DARK },
      ]} />

      {/* Source */}
      <rect x={614} y={1349} width={546} height={6} fill="#dcdcc6" />
      <g fontFamily={SERIF} fontWeight="bold" fill="#1a1a1a" fontSize={srcSize}>
        <text x={626} y={1386}>{src1}</text>
        <text x={626} y={1404.5}>Commerce and Wells Fargo Securities</text>
      </g>
      {/* Footer */}
      <g fontFamily="Lato, sans-serif" fill="#555" fontSize={footSize}>
        <text x={55} y={1548}>70</text>
        <text x={87} y={1548}>{footTxt}</text>
      </g>
    </svg>
  );
}
